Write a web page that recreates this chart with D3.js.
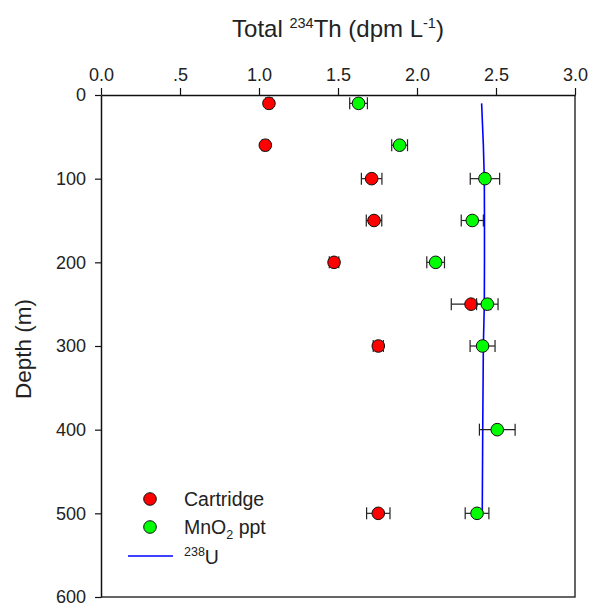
<!DOCTYPE html>
<html>
<head>
<meta charset="utf-8">
<script src="https://cdn.jsdelivr.net/npm/d3@7"></script>
<style>
  body { margin: 0; background: #fff; }
  text { font-family: "Liberation Sans", Arial, sans-serif; fill: #222; }
</style>
</head>
<body>
<svg id="chart" width="590" height="604"></svg>
<script>
// depth (m) and total 234Th (dpm/L)
const cartDepth = [10, 60, 100, 150, 200, 250, 300, 500];
const cartTh = [1.063, 1.04, 1.713, 1.728, 1.475, 2.342, 1.755, 1.755];
const cartErr = [0.02, 0.02, 0.065, 0.049, 0.03, 0.125, 0.032, 0.074];

const mnDepth = [10, 60, 100, 150, 200, 250, 300, 400, 500];
const mnTh = [1.63, 1.89, 2.43, 2.35, 2.118, 2.445, 2.415, 2.508, 2.38];
const mnErr = [0.056, 0.05, 0.093, 0.07, 0.056, 0.068, 0.079, 0.113, 0.075];

const uDepth = [10, 60, 100, 150, 200, 250, 300, 400, 500];
const uVal = [2.409, 2.42, 2.426, 2.427, 2.427, 2.426, 2.42, 2.416, 2.413];

const xTicks = [0, 0.5, 1, 1.5, 2, 2.5, 3];
const xTickLabels = ["0.0", ".5", "1.0", "1.5", "2.0", "2.5", "3.0"];
const yTicks = [0, 100, 200, 300, 400, 500, 600];

const svg = d3.select("#chart");
const plotLeft = 101, plotRight = 575, plotTop = 95, plotBottom = 597;

const x = d3.scaleLinear().domain([0, 3]).range([plotLeft, plotRight]);
const y = d3.scaleLinear().domain([0, 600]).range([plotTop, plotBottom]);

// frame right + bottom
svg.append("path")
    .attr("d", `M${plotRight},${plotTop}V${plotBottom}H${plotLeft}`)
    .attr("fill", "none")
    .attr("stroke", "#333")
    .attr("stroke-width", 1.5);

// top axis
const xAxis = svg.append("g")
    .attr("transform", `translate(0,${plotTop})`)
    .call(d3.axisTop(x).tickValues(xTicks)
        .tickFormat((d, i) => xTickLabels[i])
        .tickSize(7).tickSizeOuter(0).tickPadding(7));

// left axis
const yAxis = svg.append("g")
    .attr("transform", `translate(${plotLeft},0)`)
    .call(d3.axisLeft(y).tickValues(yTicks)
        .tickSize(6).tickSizeOuter(0).tickPadding(9));

[xAxis, yAxis].forEach(a => {
    a.select(".domain").attr("stroke", "#111").attr("stroke-width", 1.5);
    a.selectAll(".tick line").attr("stroke", "#111").attr("stroke-width", 1.2);
    a.selectAll(".tick text")
        .attr("font-size", 18)
        .attr("font-family", "Liberation Sans, Arial, sans-serif")
        .attr("fill", "#222");
});

// titles
const title = svg.append("text")
    .attr("x", 338).attr("y", 37)
    .attr("text-anchor", "middle")
    .attr("font-size", 24);
title.append("tspan").text("Total ");
title.append("tspan").text("234").attr("font-size", 14.5).attr("dy", -9);
title.append("tspan").text("Th (dpm L").attr("dy", 9);
title.append("tspan").text("-1").attr("font-size", 14.5).attr("dy", -9);
title.append("tspan").text(")").attr("dy", 9);

svg.append("text")
    .attr("transform", "translate(31,349) rotate(-90)")
    .attr("text-anchor", "middle")
    .attr("font-size", 22.5)
    .text("Depth (m)");

// 238U line
svg.append("path")
    .datum(uDepth.map((d, i) => [uVal[i], d]))
    .attr("fill", "none")
    .attr("stroke", "#0000ff")
    .attr("stroke-width", 1.6)
    .attr("d", d3.line().x(d => x(d[0])).y(d => y(d[1])));

function drawSeries(depths, vals, errs, color) {
    const pts = depths.map((d, i) => ({ depth: d, v: vals[i], e: errs[i] }));
    const g = svg.append("g");
    const eb = g.selectAll(".err").data(pts).join("g")
        .attr("stroke", "#222").attr("stroke-width", 1.2);
    eb.append("line")
        .attr("x1", d => x(d.v - d.e)).attr("x2", d => x(d.v + d.e))
        .attr("y1", d => y(d.depth)).attr("y2", d => y(d.depth));
    eb.append("line")
        .attr("x1", d => x(d.v - d.e)).attr("x2", d => x(d.v - d.e))
        .attr("y1", d => y(d.depth) - 6).attr("y2", d => y(d.depth) + 6);
    eb.append("line")
        .attr("x1", d => x(d.v + d.e)).attr("x2", d => x(d.v + d.e))
        .attr("y1", d => y(d.depth) - 6).attr("y2", d => y(d.depth) + 6);
    g.selectAll("circle").data(pts).join("circle")
        .attr("cx", d => x(d.v)).attr("cy", d => y(d.depth))
        .attr("r", 6.3)
        .attr("fill", color)
        .attr("stroke", "#111").attr("stroke-width", 1);
}

drawSeries(cartDepth, cartTh, cartErr, "#ff0000");
drawSeries(mnDepth, mnTh, mnErr, "#00ff00");

// legend
const lg = svg.append("g");
lg.append("circle").attr("cx", 150).attr("cy", 499).attr("r", 6.3)
    .attr("fill", "#ff0000").attr("stroke", "#111");
lg.append("text").attr("x", 184).attr("y", 506).attr("font-size", 19.5).text("Cartridge");
lg.append("circle").attr("cx", 150).attr("cy", 527).attr("r", 6.3)
    .attr("fill", "#00ff00").attr("stroke", "#111");
const mn = lg.append("text").attr("x", 184).attr("y", 534).attr("font-size", 19.5);
mn.append("tspan").text("MnO");
mn.append("tspan").text("2").attr("font-size", 12.5).attr("dy", 5);
mn.append("tspan").text(" ppt").attr("dy", -5);
lg.append("line").attr("x1", 128).attr("x2", 173).attr("y1", 556).attr("y2", 556)
    .attr("stroke", "#0000ff").attr("stroke-width", 1.6);
const u = lg.append("text").attr("x", 184).attr("y", 564).attr("font-size", 19.5);
u.append("tspan").text("238").attr("font-size", 12.5).attr("dy", -8);
u.append("tspan").text("U").attr("dy", 8);
</script>
</body>
</html>
